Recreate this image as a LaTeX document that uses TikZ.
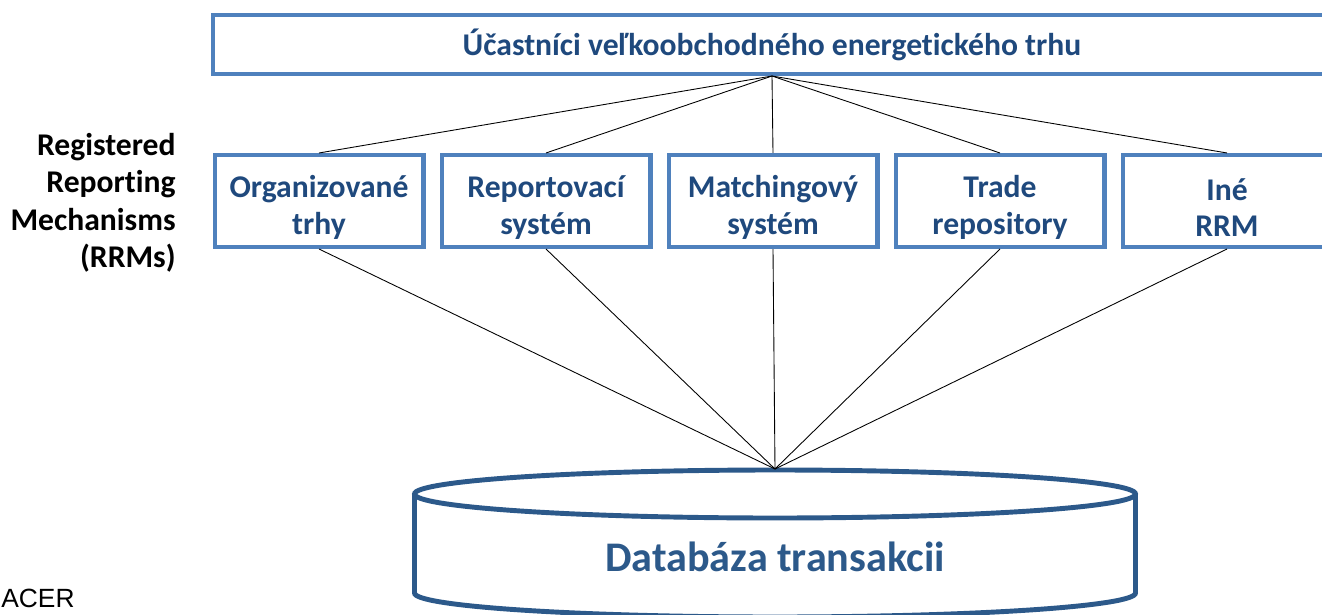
\documentclass[tikz,border=0pt]{standalone}
\usepackage{fontspec}
\setmainfont{Carlito}[Ligatures={NoCommon}]
\newfontfamily\arialfont{Liberation Sans}
\usepackage{tikz}

\definecolor{boxblue}{RGB}{79,129,189}
\definecolor{textblue}{RGB}{31,73,125}
\definecolor{dbblue}{RGB}{44,89,138}

\begin{document}
\begin{tikzpicture}[x=0.02cm, y=-0.02cm]
    \useasboundingbox (0,0) rectangle (1322,615);

    \begin{scope}[every node/.style={rectangle, draw=boxblue, line width=2.3pt, align=center,
        text=textblue, font=\bfseries\fontsize{18}{20.6}\selectfont, inner sep=0pt}]
      \node[minimum width=22.36cm, minimum height=1.18cm] (TOP) at (772, 44.5) {Účastníci veľkoobchodného energetického trhu};
      \node[minimum width=4.18cm, minimum height=1.84cm] (B1) at (319, 201) {\rule{0pt}{1.1em}Organizované\\trhy};
      \node[minimum width=4.18cm, minimum height=1.84cm] (B2) at (546, 201) {\rule{0pt}{1.1em}Reportovací\\systém};
      \node[minimum width=4.18cm, minimum height=1.84cm] (B3) at (773, 201) {\rule{0pt}{1.1em}Matchingový\\systém};
      \node[minimum width=4.18cm, minimum height=1.84cm] (B4) at (1000, 201) {\rule{0pt}{1.1em}Trade\\repository};
      \node[minimum width=4.18cm, minimum height=1.84cm] (B5) at (1227, 201) {\rule{0pt}{1.1em}Iné\\RRM};
    \end{scope}

    \node[anchor=east, align=right, inner sep=0pt, font=\bfseries\fontsize{18}{21.3}\selectfont] (RRM) at (176, 203)
      {Registered\\Reporting\\Mechanisms\\(RRMs)};

    % databaza
    \draw[dbblue, line width=2.8pt] (775, 494) ellipse [x radius=360.5, y radius=24];
    \draw[dbblue, line width=2.8pt] (414.5, 494) -- (414.5, 593) arc[start angle=180, end angle=0, x radius=360.5, y radius=24] -- (1135.5, 494);
    \coordinate (DBtop) at (775, 469);
    \node[text=dbblue, font=\bfseries\fontsize{24}{28}\selectfont] (DB) at (775, 557) {Databáza transakcii};

    \node[anchor=base west, inner sep=0pt, font=\arialfont\fontsize{15}{18}\selectfont] (ACER) at (1, 607) {ACER};

    \foreach \b in {B1,B2,B3,B4,B5} {
      \draw[line width=0.5pt] (TOP.south) -- (\b.north);
      \draw[line width=0.5pt] (\b.south) -- (DBtop);
    }

  \end{tikzpicture}
\end{document}
